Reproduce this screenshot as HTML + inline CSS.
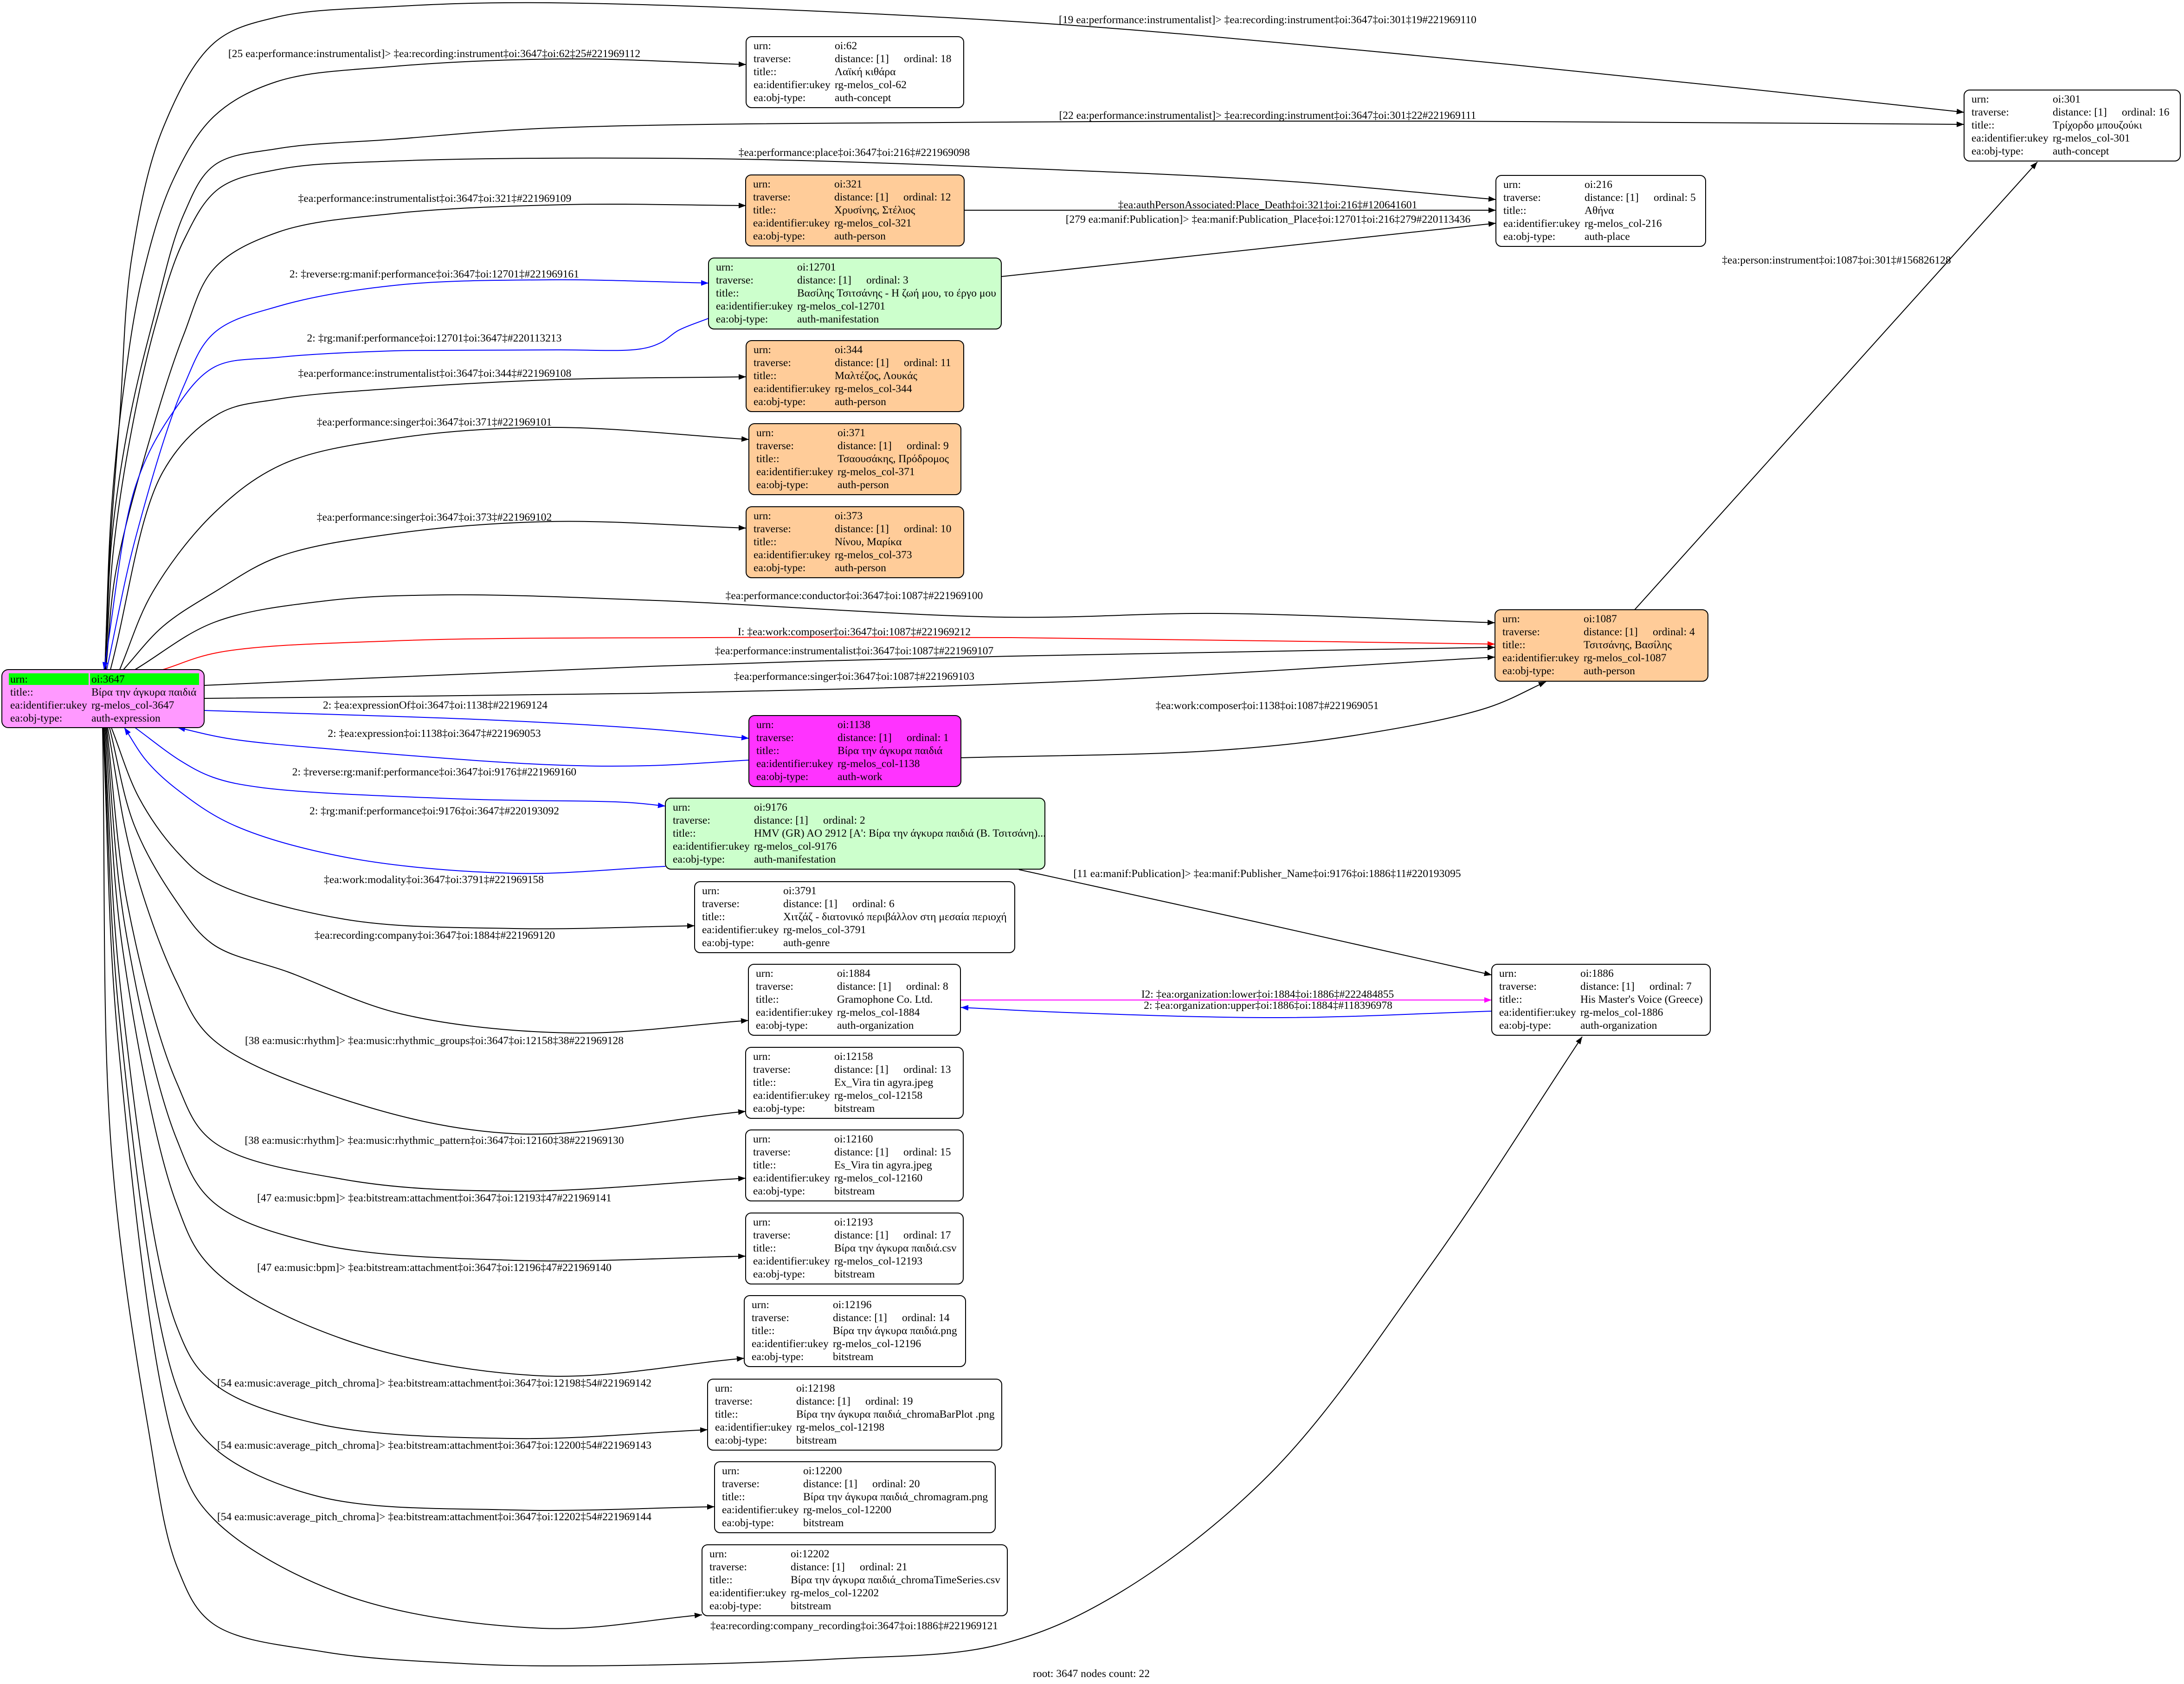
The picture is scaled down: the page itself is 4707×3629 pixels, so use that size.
<!DOCTYPE html>
<html><head><meta charset="utf-8"><style>
html,body{margin:0;padding:0;background:#fff}
svg{display:block}
text{font-family:"Liberation Serif","DejaVu Serif",serif;font-size:23.5px;fill:#000}
.l{text-anchor:middle}
.e{fill:none;stroke-width:2}
.k{stroke:#000}.b{stroke:#0000ff}.r{stroke:#ff0000}.m{stroke:#ff00ff}
.bx{stroke:#000;stroke-width:2}
</style></head><body>
<svg xmlns="http://www.w3.org/2000/svg" width="4707" height="3629" viewBox="0 0 4707 3629">
<defs>
<marker id="ak" markerUnits="userSpaceOnUse" markerWidth="16" markerHeight="12" viewBox="0 0 16 12" refX="16" refY="6" orient="auto"><path d="M0,0L16,6L0,12z" fill="#000"/></marker>
<marker id="ab" markerUnits="userSpaceOnUse" markerWidth="16" markerHeight="12" viewBox="0 0 16 12" refX="16" refY="6" orient="auto"><path d="M0,0L16,6L0,12z" fill="#0000ff"/></marker>
<marker id="ar" markerUnits="userSpaceOnUse" markerWidth="16" markerHeight="12" viewBox="0 0 16 12" refX="16" refY="6" orient="auto"><path d="M0,0L16,6L0,12z" fill="#ff0000"/></marker>
<marker id="am" markerUnits="userSpaceOnUse" markerWidth="16" markerHeight="12" viewBox="0 0 16 12" refX="16" refY="6" orient="auto"><path d="M0,0L16,6L0,12z" fill="#ff00ff"/></marker>
</defs>
<rect x="0" y="0" width="4707" height="3629" fill="#fff"/>

<g id="edges">
<polyline class="e k" marker-end="url(#ak)" points="226,1443 236,1200 258,900 284,555 351,277 462,92 596,37 850,14 1184,6 2180,46 2931,108 3762,191 4233,242"/>
<polyline class="e k" marker-end="url(#ak)" points="226,1443 240,1100 265,850 306,601 373,388 462,250 596,176 850,143 1218,127 1608,139"/>
<polyline class="e k" marker-end="url(#ak)" points="227,1443 242,1150 280,900 329,694 396,462 462,356 600,320 850,300 1184,276 2180,263 3097,261 4233,268"/>
<polyline class="e k" marker-end="url(#ak)" points="227,1443 245,1180 285,920 335,700 396,518 471,407 600,365 850,347 1528,342 2180,362 2765,390 3224,430"/>
<polyline class="e k" marker-end="url(#ak)" points="228,1443 250,1230 329,925 396,721 462,578 600,500 850,460 1218,441 1608,443"/>
<polyline class="e b" marker-end="url(#ab)" points="230,1443 293,1156 396,832 462,717 600,660 850,615 1184,603 1527,610"/>
<polyline class="e b" marker-end="url(#ab)" points="1527,686 1462,712 1425,738 1380,752 1200,754 954,755 850,756 600,770 462,791 373,888 293,1045 224,1443"/>
<polyline class="e k" marker-end="url(#ak)" points="238,1443 351,1017 471,892 600,860 850,837 1200,818 1608,812"/>
<polyline class="e k" marker-end="url(#ak)" points="258,1443 329,1276 462,1105 610,1000 850,945 1184,921 1614,947"/>
<polyline class="e k" marker-end="url(#ak)" points="266,1443 351,1350 462,1276 600,1200 850,1150 1184,1124 1608,1138"/>
<polyline class="e k" marker-end="url(#ak)" points="291,1443 462,1341 700,1295 954,1282 1413,1294 2165,1330 2625,1322 3222,1342"/>
<polyline class="e r" marker-end="url(#ar)" points="351,1443 471,1406 850,1381 1528,1374 2180,1374 3222,1388"/>
<polyline class="e k" marker-end="url(#ak)" points="440,1477 1400,1436 2180,1414 3222,1395"/>
<polyline class="e k" marker-end="url(#ak)" points="440,1505 1400,1494 2318,1468 3222,1416"/>
<polyline class="e b" marker-end="url(#ab)" points="440,1531 1069,1552 1400,1571 1614,1591"/>
<polyline class="e b" marker-end="url(#ab)" points="1614,1638 1400,1650 1184,1648 724,1615 495,1592 383,1568"/>
<polyline class="e b" marker-end="url(#ab)" points="291,1568 390,1640 459,1675 562,1697 1000,1722 1349,1729 1434,1737"/>
<polyline class="e b" marker-end="url(#ab)" points="1434,1867 1107,1882 743,1847 501,1777 380,1700 316,1640 268,1568"/>
<polyline class="e k" marker-end="url(#ak)" points="240,1568 300,1720 380,1834 459,1900 743,1981 1107,2001 1497,1995"/>
<polyline class="e k" marker-end="url(#ak)" points="236,1568 290,1780 380,1942 459,2035 622,2095 865,2185 1228,2226 1613,2199"/>
<polyline class="e k" marker-end="url(#ak)" points="232,1568 285,1850 380,2115 459,2240 743,2370 1107,2443 1607,2395"/>
<polyline class="e k" marker-end="url(#ak)" points="230,1568 275,1950 380,2331 459,2460 743,2542 1107,2567 1607,2539"/>
<polyline class="e k" marker-end="url(#ak)" points="228,1568 270,2000 380,2453 459,2590 683,2680 1107,2716 1607,2707"/>
<polyline class="e k" marker-end="url(#ak)" points="226,1568 265,2050 380,2593 459,2735 743,2887 1168,2965 1604,2927"/>
<polyline class="e k" marker-end="url(#ak)" points="224,1568 262,2150 380,2856 459,2980 683,3068 1107,3100 1525,3081"/>
<polyline class="e k" marker-end="url(#ak)" points="223,1568 258,2200 380,2987 459,3118 683,3224 1107,3254 1540,3247"/>
<polyline class="e k" marker-end="url(#ak)" points="222,1568 255,2250 380,3125 459,3272 743,3437 1168,3509 1513,3480"/>
<polyline class="e k" marker-end="url(#ak)" points="221,1568 240,2478 319,3075 383,3380 459,3499 700,3560 1000,3585 1228,3590 1800,3575 2150,3545 2400,3440 2739,3174 3083,2727 3410,2234"/>
<polyline class="e k" marker-end="url(#ak)" points="2196,1874 2700,1985 3215,2101"/>
<polyline class="e m" marker-end="url(#am)" points="2071,2155 3215,2155"/>
<polyline class="e b" marker-end="url(#ab)" points="3215,2179 2762,2193 2300,2182 2071,2171"/>
<polyline class="e k" marker-end="url(#ak)" points="2071,1633 2625,1617 2931,1583 3206,1525 3332,1469"/>
<polyline class="e k" marker-end="url(#ak)" points="3523,1314 4391,349"/>
<polyline class="e k" marker-end="url(#ak)" points="2078,453 3224,453"/>
<polyline class="e k" marker-end="url(#ak)" points="2158,596 3224,481"/>
</g>

<!-- ROOT -->
<g transform="translate(4,1443)">
<rect class="bx" x="0" y="0" width="436" height="125" rx="14" fill="#ff99ff"/>
<rect x="15" y="8" width="172" height="25" fill="#00ff00"/>
<rect x="190" y="8" width="235" height="25" fill="#00ff00"/>
<text x="18" y="28">urn:</text><text x="193" y="28">oi:3647</text>
<text x="18" y="56">title::</text><text x="193" y="56">Βίρα την άγκυρα παιδιά</text>
<text x="18" y="84">ea:identifier:ukey</text><text x="193" y="84">rg-melos_col-3647</text>
<text x="18" y="112">ea:obj-type:</text><text x="193" y="112">auth-expression</text>
</g>

<!-- 62 -->
<g transform="translate(1608,79)">
<rect class="bx" x="0" y="0" width="469" height="153" rx="12" fill="#fff"/>
<text x="16" y="27">urn:</text><text x="191" y="27">oi:62</text>
<text x="16" y="55">traverse:</text><text x="191" y="55">distance: [1]</text><text x="340" y="55">ordinal: 18</text>
<text x="16" y="83">title::</text><text x="191" y="83">Λαϊκή κιθάρα</text>
<text x="16" y="111">ea:identifier:ukey</text><text x="191" y="111">rg-melos_col-62</text>
<text x="16" y="139">ea:obj-type:</text><text x="191" y="139">auth-concept</text>
</g>

<!-- 301 -->
<g transform="translate(4233,194)">
<rect class="bx" x="0" y="0" width="466" height="153" rx="12" fill="#fff"/>
<text x="16" y="27">urn:</text><text x="191" y="27">oi:301</text>
<text x="16" y="55">traverse:</text><text x="191" y="55">distance: [1]</text><text x="340" y="55">ordinal: 16</text>
<text x="16" y="83">title::</text><text x="191" y="83">Τρίχορδο μπουζούκι</text>
<text x="16" y="111">ea:identifier:ukey</text><text x="191" y="111">rg-melos_col-301</text>
<text x="16" y="139">ea:obj-type:</text><text x="191" y="139">auth-concept</text>
</g>

<!-- 216 -->
<g transform="translate(3224,378)">
<rect class="bx" x="0" y="0" width="452" height="153" rx="12" fill="#fff"/>
<text x="16" y="27">urn:</text><text x="191" y="27">oi:216</text>
<text x="16" y="55">traverse:</text><text x="191" y="55">distance: [1]</text><text x="340" y="55">ordinal: 5</text>
<text x="16" y="83">title::</text><text x="191" y="83">Αθήνα</text>
<text x="16" y="111">ea:identifier:ukey</text><text x="191" y="111">rg-melos_col-216</text>
<text x="16" y="139">ea:obj-type:</text><text x="191" y="139">auth-place</text>
</g>

<!-- 321 -->
<g transform="translate(1607,377)">
<rect class="bx" x="0" y="0" width="471" height="153" rx="12" fill="#ffcc99"/>
<text x="16" y="27">urn:</text><text x="191" y="27">oi:321</text>
<text x="16" y="55">traverse:</text><text x="191" y="55">distance: [1]</text><text x="340" y="55">ordinal: 12</text>
<text x="16" y="83">title::</text><text x="191" y="83">Χρυσίνης, Στέλιος</text>
<text x="16" y="111">ea:identifier:ukey</text><text x="191" y="111">rg-melos_col-321</text>
<text x="16" y="139">ea:obj-type:</text><text x="191" y="139">auth-person</text>
</g>

<!-- 12701 -->
<g transform="translate(1527,556)">
<rect class="bx" x="0" y="0" width="631" height="153" rx="12" fill="#ccffcc"/>
<text x="16" y="27">urn:</text><text x="191" y="27">oi:12701</text>
<text x="16" y="55">traverse:</text><text x="191" y="55">distance: [1]</text><text x="340" y="55">ordinal: 3</text>
<text x="16" y="83">title::</text><text x="191" y="83">Βασίλης Τσιτσάνης - Η ζωή μου, το έργο μου</text>
<text x="16" y="111">ea:identifier:ukey</text><text x="191" y="111">rg-melos_col-12701</text>
<text x="16" y="139">ea:obj-type:</text><text x="191" y="139">auth-manifestation</text>
</g>

<!-- 344 -->
<g transform="translate(1608,734)">
<rect class="bx" x="0" y="0" width="469" height="153" rx="12" fill="#ffcc99"/>
<text x="16" y="27">urn:</text><text x="191" y="27">oi:344</text>
<text x="16" y="55">traverse:</text><text x="191" y="55">distance: [1]</text><text x="340" y="55">ordinal: 11</text>
<text x="16" y="83">title::</text><text x="191" y="83">Μαλτέζος, Λουκάς</text>
<text x="16" y="111">ea:identifier:ukey</text><text x="191" y="111">rg-melos_col-344</text>
<text x="16" y="139">ea:obj-type:</text><text x="191" y="139">auth-person</text>
</g>

<!-- 371 -->
<g transform="translate(1614,913)">
<rect class="bx" x="0" y="0" width="457" height="153" rx="12" fill="#ffcc99"/>
<text x="16" y="27">urn:</text><text x="191" y="27">oi:371</text>
<text x="16" y="55">traverse:</text><text x="191" y="55">distance: [1]</text><text x="340" y="55">ordinal: 9</text>
<text x="16" y="83">title::</text><text x="191" y="83">Τσαουσάκης, Πρόδρομος</text>
<text x="16" y="111">ea:identifier:ukey</text><text x="191" y="111">rg-melos_col-371</text>
<text x="16" y="139">ea:obj-type:</text><text x="191" y="139">auth-person</text>
</g>

<!-- 373 -->
<g transform="translate(1608,1092)">
<rect class="bx" x="0" y="0" width="469" height="153" rx="12" fill="#ffcc99"/>
<text x="16" y="27">urn:</text><text x="191" y="27">oi:373</text>
<text x="16" y="55">traverse:</text><text x="191" y="55">distance: [1]</text><text x="340" y="55">ordinal: 10</text>
<text x="16" y="83">title::</text><text x="191" y="83">Νίνου, Μαρίκα</text>
<text x="16" y="111">ea:identifier:ukey</text><text x="191" y="111">rg-melos_col-373</text>
<text x="16" y="139">ea:obj-type:</text><text x="191" y="139">auth-person</text>
</g>

<!-- 1087 -->
<g transform="translate(3222,1314)">
<rect class="bx" x="0" y="0" width="459" height="154" rx="12" fill="#ffcc99"/>
<text x="16" y="27">urn:</text><text x="191" y="27">oi:1087</text>
<text x="16" y="55">traverse:</text><text x="191" y="55">distance: [1]</text><text x="340" y="55">ordinal: 4</text>
<text x="16" y="83">title::</text><text x="191" y="83">Τσιτσάνης, Βασίλης</text>
<text x="16" y="111">ea:identifier:ukey</text><text x="191" y="111">rg-melos_col-1087</text>
<text x="16" y="139">ea:obj-type:</text><text x="191" y="139">auth-person</text>
</g>

<!-- 1138 -->
<g transform="translate(1614,1542)">
<rect class="bx" x="0" y="0" width="457" height="153" rx="12" fill="#ff33ff"/>
<text x="16" y="27">urn:</text><text x="191" y="27">oi:1138</text>
<text x="16" y="55">traverse:</text><text x="191" y="55">distance: [1]</text><text x="340" y="55">ordinal: 1</text>
<text x="16" y="83">title::</text><text x="191" y="83">Βίρα την άγκυρα παιδιά</text>
<text x="16" y="111">ea:identifier:ukey</text><text x="191" y="111">rg-melos_col-1138</text>
<text x="16" y="139">ea:obj-type:</text><text x="191" y="139">auth-work</text>
</g>

<!-- 9176 -->
<g transform="translate(1434,1720)">
<rect class="bx" x="0" y="0" width="818" height="153" rx="12" fill="#ccffcc"/>
<text x="16" y="27">urn:</text><text x="191" y="27">oi:9176</text>
<text x="16" y="55">traverse:</text><text x="191" y="55">distance: [1]</text><text x="340" y="55">ordinal: 2</text>
<text x="16" y="83">title::</text><text x="191" y="83">HMV (GR) AO 2912 [A': Βίρα την άγκυρα παιδιά (Β. Τσιτσάνη)...</text>
<text x="16" y="111">ea:identifier:ukey</text><text x="191" y="111">rg-melos_col-9176</text>
<text x="16" y="139">ea:obj-type:</text><text x="191" y="139">auth-manifestation</text>
</g>

<!-- 3791 -->
<g transform="translate(1497,1900)">
<rect class="bx" x="0" y="0" width="690" height="153" rx="12" fill="#fff"/>
<text x="16" y="27">urn:</text><text x="191" y="27">oi:3791</text>
<text x="16" y="55">traverse:</text><text x="191" y="55">distance: [1]</text><text x="340" y="55">ordinal: 6</text>
<text x="16" y="83">title::</text><text x="191" y="83">Χιτζάζ - διατονικό περιβάλλον στη μεσαία περιοχή</text>
<text x="16" y="111">ea:identifier:ukey</text><text x="191" y="111">rg-melos_col-3791</text>
<text x="16" y="139">ea:obj-type:</text><text x="191" y="139">auth-genre</text>
</g>

<!-- 1884 -->
<g transform="translate(1613,2078)">
<rect class="bx" x="0" y="0" width="457" height="153" rx="12" fill="#fff"/>
<text x="16" y="27">urn:</text><text x="191" y="27">oi:1884</text>
<text x="16" y="55">traverse:</text><text x="191" y="55">distance: [1]</text><text x="340" y="55">ordinal: 8</text>
<text x="16" y="83">title::</text><text x="191" y="83">Gramophone Co. Ltd.</text>
<text x="16" y="111">ea:identifier:ukey</text><text x="191" y="111">rg-melos_col-1884</text>
<text x="16" y="139">ea:obj-type:</text><text x="191" y="139">auth-organization</text>
</g>

<!-- 1886 -->
<g transform="translate(3215,2078)">
<rect class="bx" x="0" y="0" width="471" height="153" rx="12" fill="#fff"/>
<text x="16" y="27">urn:</text><text x="191" y="27">oi:1886</text>
<text x="16" y="55">traverse:</text><text x="191" y="55">distance: [1]</text><text x="340" y="55">ordinal: 7</text>
<text x="16" y="83">title::</text><text x="191" y="83">His Master's Voice (Greece)</text>
<text x="16" y="111">ea:identifier:ukey</text><text x="191" y="111">rg-melos_col-1886</text>
<text x="16" y="139">ea:obj-type:</text><text x="191" y="139">auth-organization</text>
</g>

<!-- 12158 -->
<g transform="translate(1607,2257)">
<rect class="bx" x="0" y="0" width="469" height="153" rx="12" fill="#fff"/>
<text x="16" y="27">urn:</text><text x="191" y="27">oi:12158</text>
<text x="16" y="55">traverse:</text><text x="191" y="55">distance: [1]</text><text x="340" y="55">ordinal: 13</text>
<text x="16" y="83">title::</text><text x="191" y="83">Ex_Vira tin agyra.jpeg</text>
<text x="16" y="111">ea:identifier:ukey</text><text x="191" y="111">rg-melos_col-12158</text>
<text x="16" y="139">ea:obj-type:</text><text x="191" y="139">bitstream</text>
</g>

<!-- 12160 -->
<g transform="translate(1607,2435)">
<rect class="bx" x="0" y="0" width="469" height="153" rx="12" fill="#fff"/>
<text x="16" y="27">urn:</text><text x="191" y="27">oi:12160</text>
<text x="16" y="55">traverse:</text><text x="191" y="55">distance: [1]</text><text x="340" y="55">ordinal: 15</text>
<text x="16" y="83">title::</text><text x="191" y="83">Es_Vira tin agyra.jpeg</text>
<text x="16" y="111">ea:identifier:ukey</text><text x="191" y="111">rg-melos_col-12160</text>
<text x="16" y="139">ea:obj-type:</text><text x="191" y="139">bitstream</text>
</g>

<!-- 12193 -->
<g transform="translate(1607,2614)">
<rect class="bx" x="0" y="0" width="469" height="153" rx="12" fill="#fff"/>
<text x="16" y="27">urn:</text><text x="191" y="27">oi:12193</text>
<text x="16" y="55">traverse:</text><text x="191" y="55">distance: [1]</text><text x="340" y="55">ordinal: 17</text>
<text x="16" y="83">title::</text><text x="191" y="83">Βίρα την άγκυρα παιδιά.csv</text>
<text x="16" y="111">ea:identifier:ukey</text><text x="191" y="111">rg-melos_col-12193</text>
<text x="16" y="139">ea:obj-type:</text><text x="191" y="139">bitstream</text>
</g>

<!-- 12196 -->
<g transform="translate(1604,2792)">
<rect class="bx" x="0" y="0" width="477" height="153" rx="12" fill="#fff"/>
<text x="16" y="27">urn:</text><text x="191" y="27">oi:12196</text>
<text x="16" y="55">traverse:</text><text x="191" y="55">distance: [1]</text><text x="340" y="55">ordinal: 14</text>
<text x="16" y="83">title::</text><text x="191" y="83">Βίρα την άγκυρα παιδιά.png</text>
<text x="16" y="111">ea:identifier:ukey</text><text x="191" y="111">rg-melos_col-12196</text>
<text x="16" y="139">ea:obj-type:</text><text x="191" y="139">bitstream</text>
</g>

<!-- 12198 -->
<g transform="translate(1525,2972)">
<rect class="bx" x="0" y="0" width="634" height="153" rx="12" fill="#fff"/>
<text x="16" y="27">urn:</text><text x="191" y="27">oi:12198</text>
<text x="16" y="55">traverse:</text><text x="191" y="55">distance: [1]</text><text x="340" y="55">ordinal: 19</text>
<text x="16" y="83">title::</text><text x="191" y="83">Βίρα την άγκυρα παιδιά_chromaBarPlot .png</text>
<text x="16" y="111">ea:identifier:ukey</text><text x="191" y="111">rg-melos_col-12198</text>
<text x="16" y="139">ea:obj-type:</text><text x="191" y="139">bitstream</text>
</g>

<!-- 12200 -->
<g transform="translate(1540,3150)">
<rect class="bx" x="0" y="0" width="605" height="153" rx="12" fill="#fff"/>
<text x="16" y="27">urn:</text><text x="191" y="27">oi:12200</text>
<text x="16" y="55">traverse:</text><text x="191" y="55">distance: [1]</text><text x="340" y="55">ordinal: 20</text>
<text x="16" y="83">title::</text><text x="191" y="83">Βίρα την άγκυρα παιδιά_chromagram.png</text>
<text x="16" y="111">ea:identifier:ukey</text><text x="191" y="111">rg-melos_col-12200</text>
<text x="16" y="139">ea:obj-type:</text><text x="191" y="139">bitstream</text>
</g>

<!-- 12202 -->
<g transform="translate(1513,3329)">
<rect class="bx" x="0" y="0" width="658" height="153" rx="12" fill="#fff"/>
<text x="16" y="27">urn:</text><text x="191" y="27">oi:12202</text>
<text x="16" y="55">traverse:</text><text x="191" y="55">distance: [1]</text><text x="340" y="55">ordinal: 21</text>
<text x="16" y="83">title::</text><text x="191" y="83">Βίρα την άγκυρα παιδιά_chromaTimeSeries.csv</text>
<text x="16" y="111">ea:identifier:ukey</text><text x="191" y="111">rg-melos_col-12202</text>
<text x="16" y="139">ea:obj-type:</text><text x="191" y="139">bitstream</text>
</g>

<!-- edge labels -->
<g>
<text class="l" x="2732" y="50">[19 ea:performance:instrumentalist]&gt; ‡ea:recording:instrument‡oi:3647‡oi:301‡19#221969110</text>
<text class="l" x="936" y="123">[25 ea:performance:instrumentalist]&gt; ‡ea:recording:instrument‡oi:3647‡oi:62‡25#221969112</text>
<text class="l" x="2732" y="256">[22 ea:performance:instrumentalist]&gt; ‡ea:recording:instrument‡oi:3647‡oi:301‡22#221969111</text>
<text class="l" x="1841" y="336">‡ea:performance:place‡oi:3647‡oi:216‡#221969098</text>
<text class="l" x="937" y="435">‡ea:performance:instrumentalist‡oi:3647‡oi:321‡#221969109</text>
<text class="l" x="2732" y="449">‡ea:authPersonAssociated:Place_Death‡oi:321‡oi:216‡#120641601</text>
<text class="l" x="2733" y="480">[279 ea:manif:Publication]&gt; ‡ea:manif:Publication_Place‡oi:12701‡oi:216‡279#220113436</text>
<text class="l" x="3958" y="568">‡ea:person:instrument‡oi:1087‡oi:301‡#156826128</text>
<text class="l" x="936" y="598">2: ‡reverse:rg:manif:performance‡oi:3647‡oi:12701‡#221969161</text>
<text class="l" x="936" y="736">2: ‡rg:manif:performance‡oi:12701‡oi:3647‡#220113213</text>
<text class="l" x="937" y="812">‡ea:performance:instrumentalist‡oi:3647‡oi:344‡#221969108</text>
<text class="l" x="936" y="917">‡ea:performance:singer‡oi:3647‡oi:371‡#221969101</text>
<text class="l" x="936" y="1122">‡ea:performance:singer‡oi:3647‡oi:373‡#221969102</text>
<text class="l" x="1841" y="1291">‡ea:performance:conductor‡oi:3647‡oi:1087‡#221969100</text>
<text class="l" x="1841" y="1369">I: ‡ea:work:composer‡oi:3647‡oi:1087‡#221969212</text>
<text class="l" x="1841" y="1410">‡ea:performance:instrumentalist‡oi:3647‡oi:1087‡#221969107</text>
<text class="l" x="1841" y="1465">‡ea:performance:singer‡oi:3647‡oi:1087‡#221969103</text>
<text class="l" x="938" y="1527">2: ‡ea:expressionOf‡oi:3647‡oi:1138‡#221969124</text>
<text class="l" x="2731" y="1528">‡ea:work:composer‡oi:1138‡oi:1087‡#221969051</text>
<text class="l" x="936" y="1588">2: ‡ea:expression‡oi:1138‡oi:3647‡#221969053</text>
<text class="l" x="936" y="1671">2: ‡reverse:rg:manif:performance‡oi:3647‡oi:9176‡#221969160</text>
<text class="l" x="936" y="1755">2: ‡rg:manif:performance‡oi:9176‡oi:3647‡#220193092</text>
<text class="l" x="2731" y="1890">[11 ea:manif:Publication]&gt; ‡ea:manif:Publisher_Name‡oi:9176‡oi:1886‡11#220193095</text>
<text class="l" x="935" y="1903">‡ea:work:modality‡oi:3647‡oi:3791‡#221969158</text>
<text class="l" x="937" y="2023">‡ea:recording:company‡oi:3647‡oi:1884‡#221969120</text>
<text class="l" x="2732" y="2150">I2: ‡ea:organization:lower‡oi:1884‡oi:1886‡#222484855</text>
<text class="l" x="2733" y="2174">2: ‡ea:organization:upper‡oi:1886‡oi:1884‡#118396978</text>
<text class="l" x="936" y="2250">[38 ea:music:rhythm]&gt; ‡ea:music:rhythmic_groups‡oi:3647‡oi:12158‡38#221969128</text>
<text class="l" x="936" y="2465">[38 ea:music:rhythm]&gt; ‡ea:music:rhythmic_pattern‡oi:3647‡oi:12160‡38#221969130</text>
<text class="l" x="936" y="2589">[47 ea:music:bpm]&gt; ‡ea:bitstream:attachment‡oi:3647‡oi:12193‡47#221969141</text>
<text class="l" x="936" y="2739">[47 ea:music:bpm]&gt; ‡ea:bitstream:attachment‡oi:3647‡oi:12196‡47#221969140</text>
<text class="l" x="936" y="2988">[54 ea:music:average_pitch_chroma]&gt; ‡ea:bitstream:attachment‡oi:3647‡oi:12198‡54#221969142</text>
<text class="l" x="936" y="3122">[54 ea:music:average_pitch_chroma]&gt; ‡ea:bitstream:attachment‡oi:3647‡oi:12200‡54#221969143</text>
<text class="l" x="936" y="3276">[54 ea:music:average_pitch_chroma]&gt; ‡ea:bitstream:attachment‡oi:3647‡oi:12202‡54#221969144</text>
<text class="l" x="1841" y="3511">‡ea:recording:company_recording‡oi:3647‡oi:1886‡#221969121</text>
<text class="l" x="2352" y="3614">root: 3647 nodes count: 22</text>
</g>
</svg>
<script>
(function(){
var NS='http://www.w3.org/2000/svg';
function dist(p,q){var dx=q[0]-p[0],dy=q[1]-p[1];return Math.sqrt(dx*dx+dy*dy);}
var list=document.querySelectorAll('polyline.e');
var arr=[];for(var z=0;z<list.length;z++)arr.push(list[z]);
for(var n=0;n<arr.length;n++){
 var pl=arr[n];
 var raw=pl.getAttribute('points').trim().split(/\s+/);
 var a=[];
 for(var k=0;k<raw.length;k++){var q=raw[k].split(',');a.push([+q[0],+q[1]]);}
 if(a.length<3)continue;
 var d='M'+a[0][0]+','+a[0][1];
 for(var i=0;i<a.length-1;i++){
  var p1=a[i],p2=a[i+1];
  var p0=i>0?a[i-1]:[2*p1[0]-p2[0],2*p1[1]-p2[1]];
  var p3=(i+2<a.length)?a[i+2]:[2*p2[0]-p1[0],2*p2[1]-p1[1]];
  var d1=Math.sqrt(dist(p0,p1))||1e-4,d2=Math.sqrt(dist(p1,p2))||1e-4,d3=Math.sqrt(dist(p2,p3))||1e-4;
  var s1=d1*d1,s2=d2*d2,s3=d3*d3;
  var f1=3*d1*(d1+d2),f2=3*d3*(d3+d2);
  var b1x=(s1*p2[0]-s2*p0[0]+(2*s1+3*d1*d2+s2)*p1[0])/f1;
  var b1y=(s1*p2[1]-s2*p0[1]+(2*s1+3*d1*d2+s2)*p1[1])/f1;
  var b2x=(s3*p1[0]-s2*p3[0]+(2*s3+3*d3*d2+s2)*p2[0])/f2;
  var b2y=(s3*p1[1]-s2*p3[1]+(2*s3+3*d3*d2+s2)*p2[1])/f2;
  d+=' C'+b1x.toFixed(1)+','+b1y.toFixed(1)+' '+b2x.toFixed(1)+','+b2y.toFixed(1)+' '+p2[0]+','+p2[1];
 }
 var p=document.createElementNS(NS,'path');
 p.setAttribute('d',d);
 p.setAttribute('class',pl.getAttribute('class'));
 p.setAttribute('marker-end',pl.getAttribute('marker-end'));
 pl.parentNode.replaceChild(p,pl);
}
})();
</script>
</body></html>
